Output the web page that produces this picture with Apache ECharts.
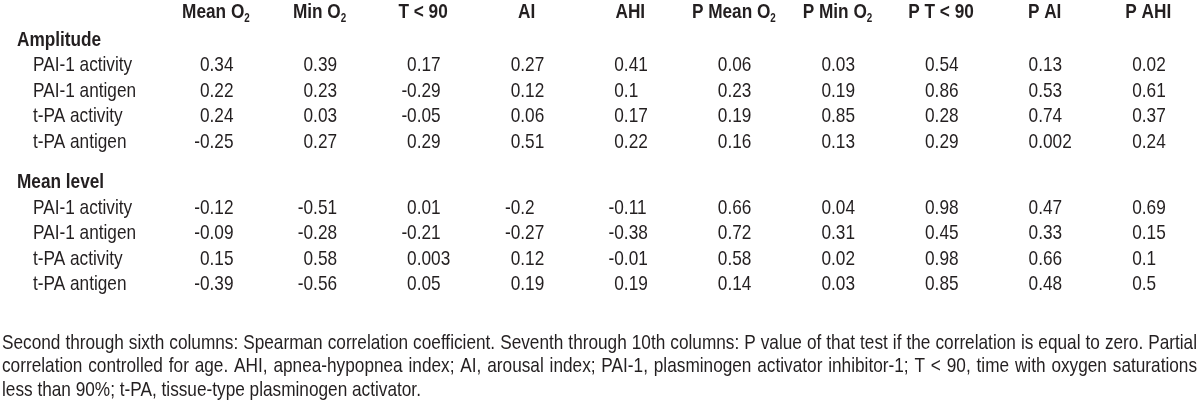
<!DOCTYPE html>
<html><head><meta charset="utf-8">
<script src="https://cdn.jsdelivr.net/npm/echarts@6/dist/echarts.min.js"></script>
<style>html,body{margin:0;padding:0;background:#fff}#c{width:1200px;height:407px}</style>
</head><body><div id="c"></div>
<script>
// ---------- data ----------
const columns = ['Mean O2', 'Min O2', 'T < 90', 'AI', 'AHI', 'P Mean O2', 'P Min O2', 'P T < 90', 'P AI', 'P AHI'];
const groups = ['Amplitude', 'Mean level'];
const markers = ['PAI-1 activity', 'PAI-1 antigen', 't-PA activity', 't-PA antigen'];
const amplitudeValues = [
  [0.34, 0.39, 0.17, 0.27, 0.41, 0.06, 0.03, 0.54, 0.13, 0.02],
  [0.22, 0.23, -0.29, 0.12, 0.1, 0.23, 0.19, 0.86, 0.53, 0.61],
  [0.24, 0.03, -0.05, 0.06, 0.17, 0.19, 0.85, 0.28, 0.74, 0.37],
  [-0.25, 0.27, 0.29, 0.51, 0.22, 0.16, 0.13, 0.29, 0.002, 0.24]
];
const meanLevelValues = [
  [-0.12, -0.51, 0.01, -0.2, -0.11, 0.66, 0.04, 0.98, 0.47, 0.69],
  [-0.09, -0.28, -0.21, -0.27, -0.38, 0.72, 0.31, 0.45, 0.33, 0.15],
  [0.15, 0.58, 0.003, 0.12, -0.01, 0.58, 0.02, 0.98, 0.66, 0.1],
  [-0.39, -0.56, 0.05, 0.19, 0.19, 0.14, 0.03, 0.85, 0.48, 0.5]
];
const footnoteLines = [
  'Second through sixth columns: Spearman correlation coefficient. Seventh through 10th columns: P value of that test if the correlation is equal to zero. Partial',
  'correlation controlled for age. AHI, apnea-hypopnea index; AI, arousal index; PAI-1, plasminogen activator inhibitor-1; T < 90, time with oxygen saturations',
  'less than 90%; t-PA, tissue-type plasminogen activator.'
];

// ---------- style / layout ----------
const FAMILY = '"Liberation Sans", Arial, sans-serif';
const NARROW = 0.82;            // Arial Narrow ~ 82% of Arial widths
const INK = '#231f20';
const FS = 21;
const FONT = FS + 'px ' + FAMILY;
const FONT_B = 'bold ' + FS + 'px ' + FAMILY;
const COL0 = 216, COLSTEP = 103.67;
const ROWSTEP = 25.5;
const groupCenters = [40, 182.5];
const HEADER_Y = 12;
const VALUE_SHIFT = 16;
const LABEL_X = [17, 33];
const gridLeft = COL0 - COLSTEP / 2;

function txt(x, y, style) {
  return { type: 'text', x: x, y: y, scaleX: NARROW, silent: true,
    style: Object.assign({ x: 0, y: 0, fill: INK, verticalAlign: 'middle' }, style) };
}

const groupData = [amplitudeValues, meanLevelValues];
const grids = [], xAxes = [], yAxes = [], series = [];
const hidden = { axisLine: { show: false }, axisTick: { show: false }, splitLine: { show: false }, axisLabel: { show: false } };

groupData.forEach((rows, g) => {
  const top = groupCenters[g] - ROWSTEP / 2;
  const rowNames = [groups[g]].concat(markers);
  grids.push({ left: gridLeft, width: COLSTEP * columns.length, top: top, height: ROWSTEP * rowNames.length });
  xAxes.push(Object.assign({ type: 'category', gridIndex: g, data: columns, position: 'top' }, hidden));
  yAxes.push(Object.assign({ type: 'category', gridIndex: g, inverse: true, data: rowNames }, hidden));

  // row labels (group heading + markers)
  series.push({
    type: 'custom', xAxisIndex: g, yAxisIndex: g, clip: false, silent: true,
    encode: { x: 0, y: 1 },
    data: rowNames.map((n, r) => [0, r]),
    renderItem: (params, api) => {
      const r = api.value(1);
      const p = api.coord([0, r]);
      return txt(LABEL_X[r === 0 ? 0 : 1], p[1], { text: rowNames[r], font: r === 0 ? FONT_B : FONT, align: 'left' });
    }
  });

  // values
  const data = [];
  rows.forEach((row, r) => row.forEach((v, c) => data.push([c, r + 1, v])));
  series.push({
    type: 'custom', xAxisIndex: g, yAxisIndex: g, clip: false, silent: true,
    encode: { x: 0, y: 1 },
    data: data,
    renderItem: (params, api) => {
      const p = api.coord([api.value(0), api.value(1)]);
      const v = api.value(2);
      const x = p[0] - VALUE_SHIFT;
      const children = [txt(x, p[1], { text: String(Math.abs(v)), font: FONT, align: 'left' })];
      if (v < 0) children.push(txt(x, p[1], { text: '-', font: FONT, align: 'right' }));
      return { type: 'group', children: children };
    }
  });

  // column headers (top group only)
  if (g === 0) {
    series.push({
      type: 'custom', xAxisIndex: g, yAxisIndex: g, clip: false, silent: true,
      encode: { x: 0, y: 1 },
      data: columns.map((n, c) => [c, 0]),
      renderItem: (params, api) => {
        const c = api.value(0);
        const p = api.coord([c, 0]);
        const name = columns[c];
        const text = /O2$/.test(name) ? '{h|' + name.slice(0, -1) + '}{s|2}' : '{h|' + name + '}';
        return txt(p[0], HEADER_Y, {
          text: text, align: 'center',
          rich: {
            h: { font: FONT_B, fill: INK, lineHeight: 26 },
            s: { font: 'bold 12px ' + FAMILY, fill: INK, lineHeight: 26, verticalAlign: 'bottom' }
          }
        });
      }
    });
  }
});

// ---------- footnote (justified lines) ----------
const FOOT_X0 = 2, FOOT_X1 = 1197, FOOT_Y0 = 343, FOOT_STEP = 23.5;
const ctx = document.createElement('canvas').getContext('2d');
ctx.font = FONT;
const graphics = [];
footnoteLines.forEach((line, li) => {
  const y = FOOT_Y0 + li * FOOT_STEP;
  if (li === footnoteLines.length - 1) {
    graphics.push(txt(FOOT_X0, y, { text: line, font: FONT, align: 'left' }));
    return;
  }
  const words = line.split(' ');
  const widths = words.map(w => ctx.measureText(w).width * NARROW);
  const total = widths.reduce((a, b) => a + b, 0);
  const gap = (FOOT_X1 - FOOT_X0 - total) / (words.length - 1);
  let x = FOOT_X0;
  words.forEach((w, i) => {
    graphics.push(txt(x, y, { text: w, font: FONT, align: 'left' }));
    x += widths[i] + gap;
  });
});

const chart = echarts.init(document.getElementById('c'), null, { renderer: 'canvas' });
chart.setOption({
  backgroundColor: '#fff',
  animation: false,
  grid: grids, xAxis: xAxes, yAxis: yAxes, series: series,
  graphic: graphics
});
</script></body></html>
